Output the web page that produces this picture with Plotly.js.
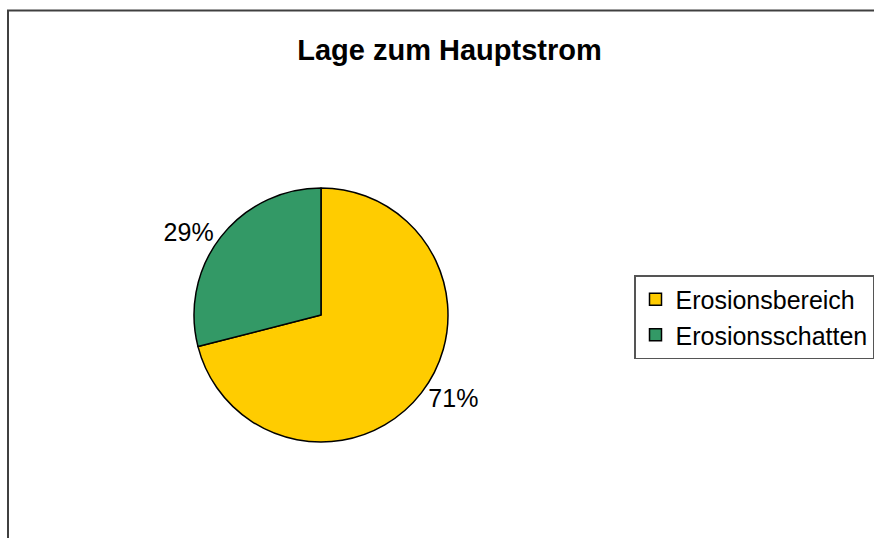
<!DOCTYPE html>
<html><head><meta charset="utf-8">
<script src="https://cdn.plot.ly/plotly-3.0.1.min.js"></script>
<style>html,body{margin:0;padding:0;background:#fff;overflow:hidden;}#chart{width:874px;height:538px;}</style>
</head><body><div id="chart"></div>
<script>
const categories = ["Erosionsbereich", "Erosionsschatten"];
const shares = [71, 29];
const sliceColors = ["#FFCC00", "#339966"];
const chartTitle = "Lage zum Hauptstrom";

const W = 874, H = 538;
const cx = 321, cy = 315, r = 127;

const trace = {
  type: "pie",
  labels: categories,
  values: shares,
  sort: false,
  direction: "clockwise",
  rotation: 0,
  marker: {colors: sliceColors, line: {color: "#000", width: 1.5}},
  textinfo: "percent",
  texttemplate: "%{percent:.0%}",
  textposition: "outside",
  outsidetextfont: {family: "Liberation Sans, Arial, sans-serif", size: 25, color: "#000"},
  domain: {x: [(cx - r) / W, (cx + r) / W], y: [(H - cy - r) / H, (H - cy + r) / H]},
  hoverinfo: "none"
};

const layout = {
  width: W, height: H,
  margin: {l: 0, r: 0, t: 0, b: 0, autoexpand: false},
  paper_bgcolor: "#fff",
  font: {family: "Liberation Sans, Arial, sans-serif", color: "#000"},
  title: {text: "<b>" + chartTitle + "</b>", x: 449.5 / W, xanchor: "center", y: 1 - 50 / H, yanchor: "middle", xref: "paper", yref: "paper",
          font: {family: "Liberation Sans, Arial, sans-serif", size: 29, color: "#000"}},
  showlegend: true,
  legend: {x: 634 / W, xanchor: "left", y: 1 - 275 / H, yanchor: "top", xref: "paper", yref: "paper",
           bordercolor: "#555", borderwidth: 1.5, bgcolor: "#fff",
           font: {family: "Liberation Sans, Arial, sans-serif", size: 25, color: "#000"}},
  shapes: [{type: "rect", xref: "paper", yref: "paper", x0: 8 / W, x1: 1.05, y0: -0.05, y1: 1 - 10.5 / H,
            line: {color: "#404040", width: 2}, fillcolor: "rgba(0,0,0,0)", layer: "below"}]
};

Plotly.newPlot("chart", [trace], layout, {displayModeBar: false, staticPlot: true});
</script></body></html>
